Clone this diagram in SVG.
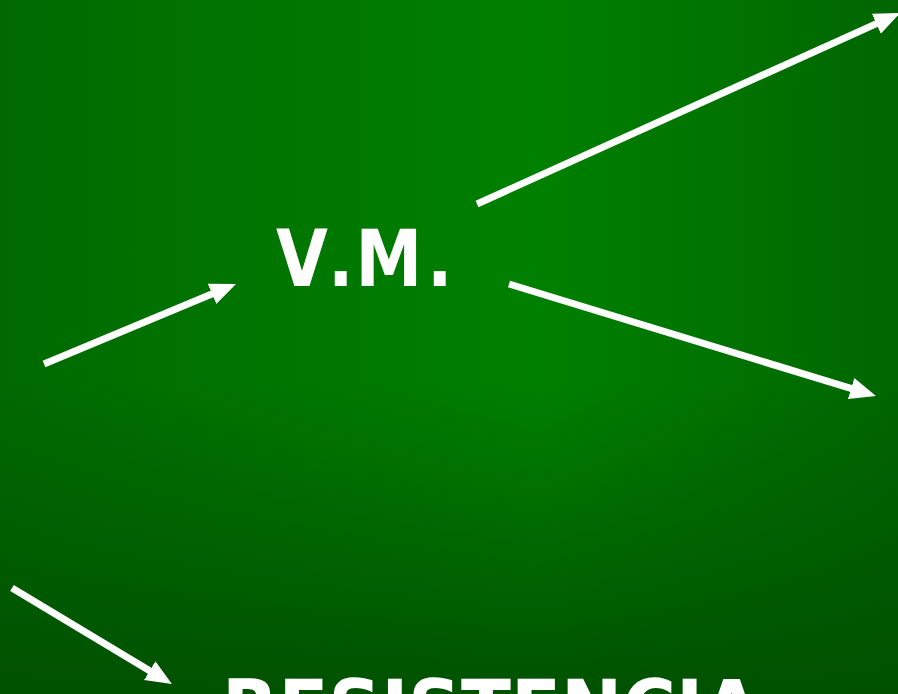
<svg xmlns="http://www.w3.org/2000/svg" width="898" height="694" viewBox="0 0 898 694">
<style>
.lbl{fill:#ffffff;font-family:"DejaVu Sans","Liberation Sans",sans-serif;font-weight:bold;font-size:78px}
.arr{stroke:#ffffff;stroke-width:7;fill:none;marker-end:url(#head)}
</style>
<defs>
<linearGradient id="hz" gradientUnits="userSpaceOnUse" x1="0" y1="0" x2="898" y2="0">
<stop offset="0" stop-color="#006a00"/>
<stop offset="0.6" stop-color="#008000"/>
<stop offset="1" stop-color="#006600"/>
</linearGradient>
<linearGradient id="vt" gradientUnits="userSpaceOnUse" x1="0" y1="380" x2="0" y2="694">
<stop offset="0" stop-color="#005000" stop-opacity="0"/>
<stop offset="1" stop-color="#004e00" stop-opacity="0.92"/>
</linearGradient>
<marker id="head" markerUnits="userSpaceOnUse" markerWidth="28" markerHeight="24" viewBox="0 0 28 24" refX="16" refY="12" orient="auto">
<path d="M0,1 L26,12 L0,23 z" fill="#ffffff"/>
</marker>
</defs>
<rect width="898" height="694" fill="url(#hz)"/>
<rect width="898" height="694" fill="url(#vt)"/>
<g id="connectors">
<line class="arr" x1="44" y1="364" x2="226.8" y2="287.8"/>
<line class="arr" x1="477" y1="204" x2="890.9" y2="17.1"/>
<line class="arr" x1="509" y1="284" x2="866.4" y2="393.1"/>
<line class="arr" x1="12" y1="588" x2="163.4" y2="678.9"/>
</g>
<g id="vm">
<text class="lbl" transform="scale(0.86,1)" x="321 381.5 413.5 496.5" y="286">V.M.</text>
</g>
<g id="resistencia"><text class="lbl" x="222" y="736" textLength="538" lengthAdjust="spacingAndGlyphs">RESISTENCIA</text></g>
</svg>
